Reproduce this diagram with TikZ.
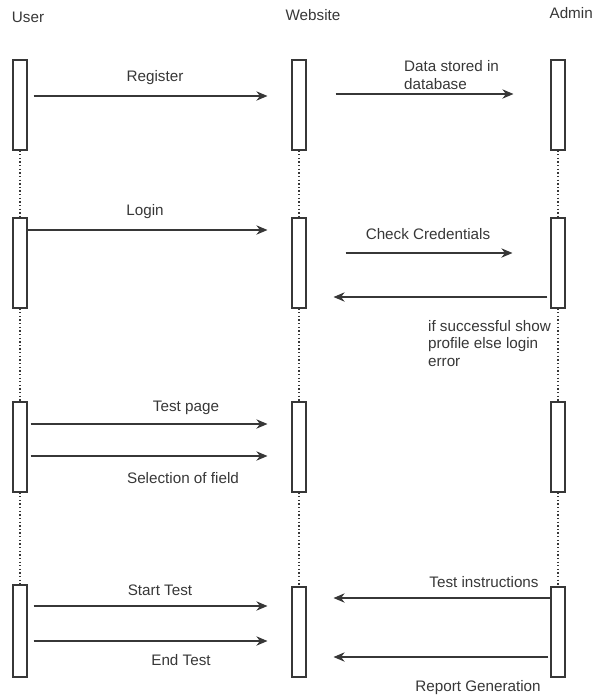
\documentclass[tikz,border=0pt]{standalone}
\usepackage{fontspec}
\setmainfont{Liberation Sans}
\usepackage{tikz}
\usetikzlibrary{arrows.meta, positioning, calc}
\definecolor{inkgray}{RGB}{55,55,55}

\begin{document}
\begin{tikzpicture}[
  x=0.03cm, y=-0.03cm,
  every node/.style={font=\fontsize{13}{15}\selectfont, text=inkgray},
  actbox/.style={draw=inkgray, line width=0.9pt, fill=white,
                 minimum width=0.42cm, minimum height=2.7cm, inner sep=0pt},
  lifeline/.style={dotted, line width=1.1pt, inkgray},
  msg/.style={-{Stealth[length=9.5pt, width=8pt]}, line width=1pt, inkgray},
  lbl/.style={align=left, anchor=west},
]
\useasboundingbox (0,0) rectangle (594,700);

%% ── HEADERS ───────────────────────────────────────────────────────────
\node (huser)  at (28, 17)          {User};
\node (hweb)   at (313, 15)         {Website};
\node[anchor=east, inner sep=0pt] (hadmin) at (593, 13) {Admin};

%% ── ACTIVATION BOXES ──────────────────────────────────────────────────
\node[actbox] (u1) at ( 20, 105) {};
\node[actbox] (w1) at (299, 105) {};
\node[actbox] (a1) at (558, 105) {};

\node[actbox] (u2) at ( 20, 263) {};
\node[actbox] (w2) at (299, 263) {};
\node[actbox] (a2) at (558, 263) {};

\node[actbox] (u3) at ( 20, 447) {};
\node[actbox] (w3) at (299, 447) {};
\node[actbox] (a3) at (558, 447) {};

\node[actbox, minimum height=2.76cm] (u4) at ( 20, 631) {};
\node[actbox] (w4) at (299, 632) {};
\node[actbox] (a4) at (558, 632) {};

%% ── LIFELINES ─────────────────────────────────────────────────────────
\foreach \c in {u, w, a}{
  \draw[lifeline] (\c1.south) -- (\c2.north);
  \draw[lifeline] (\c2.south) -- (\c3.north);
  \draw[lifeline] (\c3.south) -- (\c4.north);
}

%% ── REGISTER ──────────────────────────────────────────────────────────
\node (lreg) at (155, 78) {Register};
\draw[msg, shorten <=0.18cm, shorten >=0.72cm] (u1.east |- 0,96) -- (w1.west |- 0,96);

\node[lbl] (lstore) at (400, 75) {Data stored in\\database};
\draw[msg, shorten <=0.87cm, shorten >=1.11cm] (w1.east |- 0,94) -- (a1.west |- 0,94);

%% ── LOGIN ─────────────────────────────────────────────────────────────
\node (llogin) at (145, 212) {Login};
\draw[msg, shorten >=0.72cm] (u2.east |- 0,230) -- (w2.west |- 0,230);

\node (lcheck) at (428, 234) {Check Credentials};
\draw[msg, shorten <=1.17cm, shorten >=1.14cm] (w2.east |- 0,253) -- (a2.west |- 0,253);

\draw[msg, shorten <=0.09cm, shorten >=0.81cm] (a2.west |- 0,297) -- (w2.east |- 0,297);
\node[lbl, anchor=north west] (lresult) at (424, 316)
  {if successful show\\profile else login\\error};

%% ── TEST PAGE ─────────────────────────────────────────────────────────
\node (ltest) at (186, 408) {Test page};
\draw[msg, shorten <=0.09cm, shorten >=0.72cm] (u3.east |- 0,424) -- (w3.west |- 0,424);

\draw[msg, shorten <=0.09cm, shorten >=0.72cm] (u3.east |- 0,456) -- (w3.west |- 0,456);
\node (lfield) at (183, 478) {Selection of field};

%% ── START / END TEST ──────────────────────────────────────────────────
\node (lstart) at (160, 590) {Start Test};
\draw[msg, shorten <=0.18cm, shorten >=0.72cm] (u4.east |- 0,606) -- (w4.west |- 0,606);

\draw[msg, shorten <=0.18cm, shorten >=0.72cm] (u4.east |- 0,641) -- (w4.west |- 0,641);
\node (lend) at (181, 660) {End Test};

\node (linstr) at (484, 582) {Test instructions};
\draw[msg, shorten >=0.81cm] (a4.west |- 0,598) -- (w4.east |- 0,598);

\draw[msg, shorten <=0.06cm, shorten >=0.81cm] (a4.west |- 0,657) -- (w4.east |- 0,657);
\node (lreport) at (478, 688) {Report Generation};

\end{tikzpicture}
\end{document}
